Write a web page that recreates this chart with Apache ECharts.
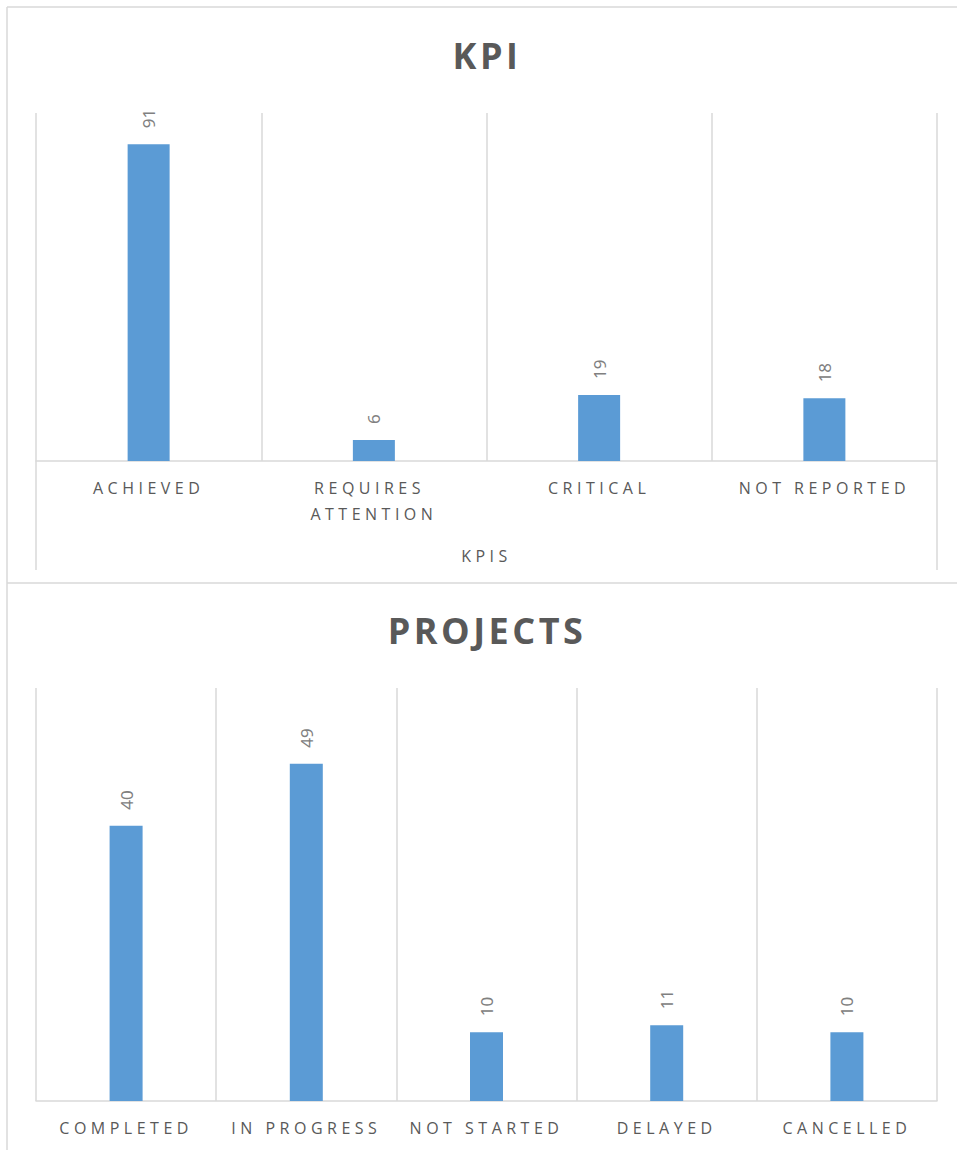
<!DOCTYPE html>
<html>
<head>
<meta charset="utf-8">
<script src="https://cdn.jsdelivr.net/npm/echarts@6/dist/echarts.min.js"></script>
<style>
html, body { margin: 0; padding: 0; background: #fff; }
#chart { width: 957px; height: 1150px; }
#chart svg text[style*="Open Sans"] { letter-spacing: 4.5px; }
#chart svg text[style*="bold"] { letter-spacing: 3.5px; }
</style>
</head>
<body>
<div id="chart"></div>
<script>
// ---- data ----
const kpiTitle = 'KPI';
const kpiAxisName = 'KPIS';
const kpiCategories = ['ACHIEVED', 'REQUIRES ATTENTION', 'CRITICAL', 'NOT REPORTED'];
const kpiValues = [91, 6, 19, 18];

const projTitle = 'PROJECTS';
const projCategories = ['COMPLETED', 'IN PROGRESS', 'NOT STARTED', 'DELAYED', 'CANCELLED'];
const projValues = [40, 49, 10, 11, 10];

// ---- styles ----
const BAR = '#5B9BD5';
const GRIDC = '#D9D9D9';
const TXT = '#595959';
const LBL = '#808080';

const chart = echarts.init(document.getElementById('chart'), null, { renderer: 'svg' });

function catAxis(idx, data, extra) {
  return Object.assign({
    type: 'category', gridIndex: idx, data: data, boundaryGap: true,
    axisLine: { show: true, lineStyle: { color: GRIDC, width: 1.5 } },
    axisTick: { show: false },
    splitLine: { show: true, interval: 0, lineStyle: { color: GRIDC, width: 1.5 } },
    axisLabel: {
      interval: 0, margin: 14, color: TXT, fontFamily: 'Open Sans', fontSize: 16,
      lineHeight: 26
    }
  }, extra || {});
}

function valAxis(idx, max) {
  return { type: 'value', gridIndex: idx, min: 0, max: max, show: false, splitLine: { show: false } };
}

function dataLabel() {
  return {
    show: true, position: 'top', rotate: 90, align: 'left', verticalAlign: 'middle',
    distance: 16, color: LBL, fontFamily: 'Noto Sans', fontSize: 17
  };
}

const topAxis = catAxis(0, kpiCategories, {
  name: kpiAxisName, nameLocation: 'middle', nameGap: 82,
  nameTextStyle: { color: TXT, fontFamily: 'Open Sans', fontSize: 16, lineHeight: 26 }
});
topAxis.axisLabel.width = 150;
topAxis.axisLabel.overflow = 'break';

const option = {
  animation: false,
  backgroundColor: '#fff',
  title: [
    { text: kpiTitle, left: 482, top: 30, textAlign: 'center',
      textStyle: { fontFamily: 'Open Sans', fontWeight: 'bold', fontSize: 36, lineHeight: 40, color: TXT } },
    { text: projTitle, left: 482, top: 605, textAlign: 'center',
      textStyle: { fontFamily: 'Open Sans', fontWeight: 'bold', fontSize: 36, lineHeight: 40, color: TXT } }
  ],
  grid: [
    { left: 36, right: 20, top: 113, bottom: 689 },
    { left: 36, right: 20, top: 688, bottom: 49 }
  ],
  xAxis: [
    topAxis,
    catAxis(1, projCategories)
  ],
  yAxis: [valAxis(0, 100), valAxis(1, 60)],
  series: [
    { type: 'bar', xAxisIndex: 0, yAxisIndex: 0, data: kpiValues, barWidth: 42,
      itemStyle: { color: BAR }, label: dataLabel() },
    { type: 'bar', xAxisIndex: 1, yAxisIndex: 1, data: projValues, barWidth: 33,
      itemStyle: { color: BAR }, label: dataLabel() }
  ],
  graphic: [
    // outer frame lines
    { type: 'line', shape: { x1: 7, y1: 7, x2: 957, y2: 7 }, style: { stroke: GRIDC, lineWidth: 1.5 } },
    { type: 'line', shape: { x1: 7, y1: 7, x2: 7, y2: 1150 }, style: { stroke: GRIDC, lineWidth: 1.5 } },
    { type: 'line', shape: { x1: 7, y1: 583, x2: 957, y2: 583 }, style: { stroke: GRIDC, lineWidth: 1.5 } },
    // extension of outer category boundaries below the top axis
    { type: 'line', shape: { x1: 36, y1: 461, x2: 36, y2: 570 }, style: { stroke: GRIDC, lineWidth: 1.5 } },
    { type: 'line', shape: { x1: 937, y1: 461, x2: 937, y2: 570 }, style: { stroke: GRIDC, lineWidth: 1.5 } }
  ]
};

chart.setOption(option);
</script>
</body>
</html>
